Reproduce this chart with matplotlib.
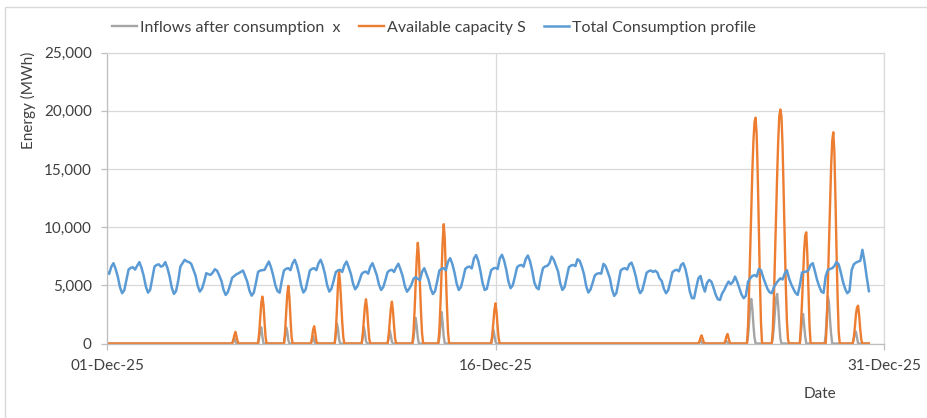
import matplotlib
matplotlib.use('Agg')
import matplotlib.pyplot as plt
import matplotlib.dates as mdates
from matplotlib.ticker import FuncFormatter
from matplotlib.patches import Rectangle
import pandas as pd

plt.rcParams['font.family'] = ['Lato', 'DejaVu Sans']

# Total consumption profile, 2-hourly values (MWh), one row per day from 01-Dec-25
consumption = [
    6180, 5980, 6600, 6900, 6400, 5740, 4840, 4320, 4570, 5440, 6350, 6500,
    6550, 6350, 6690, 6990, 6490, 5810, 4890, 4370, 4620, 5590, 6600, 6750,
    6800, 6600, 6690, 6990, 6490, 5760, 4810, 4260, 4510, 5400, 6610, 6900,
    7190, 7050, 6990, 6850, 6350, 5850, 4970, 4460, 4710, 5300, 6040, 5950,
    5900, 6100, 6380, 6250, 5850, 5390, 4610, 4170, 4420, 5000, 5650, 5800,
    5950, 6040, 6150, 6270, 5800, 5300, 4540, 4110, 4360, 5200, 6150, 6270,
    6300, 6330, 6700, 7040, 6540, 5840, 5000, 4500, 4370, 5420, 6270, 6420,
    6470, 6300, 6890, 7190, 6690, 5930, 4940, 4380, 4630, 5430, 6270, 6420,
    6470, 6300, 6890, 7190, 6690, 5960, 5010, 4460, 4710, 5390, 6130, 6280,
    6330, 6150, 6740, 7040, 6540, 5970, 5140, 4660, 4910, 5420, 5980, 6130,
    6180, 6000, 6600, 6900, 6400, 5870, 5060, 4600, 4850, 5460, 6130, 6280,
    6330, 6150, 6550, 6850, 6350, 5770, 4930, 4450, 4700, 5030, 5550, 5700,
    5550, 5450, 6170, 6470, 5970, 5470, 4690, 4250, 4500, 5360, 6270, 6420,
    6470, 6300, 7030, 7330, 6830, 6100, 5150, 4600, 4850, 5600, 6410, 6560,
    6610, 6450, 7300, 7600, 7100, 6250, 5200, 4600, 4700, 5550, 6300, 6450,
    6500, 6400, 7320, 7620, 7120, 6330, 5320, 4750, 5000, 5750, 6550, 6700,
    6750, 6600, 7260, 7560, 7060, 6260, 5240, 4800, 4660, 5660, 6470, 6620,
    6670, 6900, 7470, 7200, 6700, 6180, 5170, 4600, 4850, 5680, 6550, 6700,
    6750, 6650, 7240, 7100, 6600, 5950, 4950, 4380, 4630, 5210, 5840, 5990,
    6040, 6000, 6840, 6650, 6150, 5600, 4640, 4090, 4340, 5280, 6270, 6420,
    6470, 6350, 6800, 6950, 6450, 5770, 4850, 4320, 4570, 5300, 6070, 6220,
    6270, 6150, 6250, 6100, 5600, 5380, 4710, 4320, 4570, 5320, 6130, 6280,
    6330, 6200, 6750, 6900, 6400, 5550, 4490, 3900, 3890, 4800, 5600, 5800,
    5000, 4460, 5200, 5460, 5320, 4800, 4200, 3800, 3740, 4300, 4600, 5000,
    5320, 5100, 5300, 5750, 5300, 4740, 4200, 3890, 4100, 5300, 5600, 5800,
    5880, 5750, 6400, 6300, 5700, 5180, 4700, 4400, 4320, 4850, 5150, 5400,
    5600, 5500, 6000, 6300, 5600, 5100, 4700, 4350, 4170, 5000, 6100, 6150,
    6180, 6300, 6750, 6900, 6200, 5460, 4900, 4450, 4350, 5800, 6330, 6400,
    6470, 6650, 7000, 6800, 6100, 5300, 4700, 4320, 4500, 6300, 6800, 6950,
    7040, 7100, 8050, 7000, 5700, 4500,
]

# Available capacity S: hourly spikes (start hour, values), zero elsewhere
capacity_start = [
    '2025-12-05 20:00', '2025-12-06 20:00', '2025-12-07 20:00', '2025-12-08 21:00',
    '2025-12-09 19:00', '2025-12-10 20:00', '2025-12-11 20:00', '2025-12-12 19:00',
    '2025-12-13 19:00', '2025-12-15 20:00', '2025-12-23 20:00', '2025-12-24 20:00',
    '2025-12-25 17:00', '2025-12-26 16:00', '2025-12-27 18:00', '2025-12-28 18:00',
    '2025-12-29 19:00',
]
capacity_vals = [
    [0, 300, 700, 1000, 600, 200, 0],
    [0, 900, 2200, 3500, 4030, 3300, 1800, 500, 0],
    [0, 1000, 2600, 4200, 4950, 4000, 2200, 600, 0],
    [0, 500, 1200, 1480, 900, 200, 0],
    [0, 1000, 2800, 5000, 6180, 5200, 3500, 1800, 500, 0],
    [0, 800, 2000, 3200, 3800, 3000, 1600, 400, 0],
    [0, 700, 1900, 3000, 3600, 2800, 1500, 400, 0],
    [0, 1000, 2800, 5000, 7300, 8650, 7500, 5000, 2600, 800, 0],
    [0, 1200, 3400, 6000, 8700, 10250, 9000, 6200, 3200, 1000, 0],
    [0, 700, 1800, 2900, 3450, 2700, 1400, 400, 0],
    [0, 200, 500, 700, 400, 100, 0],
    [0, 250, 600, 820, 450, 100, 0],
    [0, 1500, 4500, 8000, 11500, 14800, 17400, 19000, 19400, 18000, 14500, 10000, 5500, 1800, 0],
    [0, 1200, 4000, 7500, 11000, 14500, 17500, 19600, 20100, 19500, 17000, 13000, 9000, 5000, 2000, 400, 0],
    [0, 1500, 3500, 5800, 8000, 9300, 9550, 7500, 4500, 1500, 0],
    [0, 1800, 5000, 8500, 12000, 15200, 17400, 18150, 16500, 12500, 8000, 4000, 1000, 0],
    [0, 500, 1400, 2500, 3100, 3250, 2400, 1200, 300, 0],
]

# Inflows after consumption x: hourly spikes (start hour, values)
inflow_start = [
    '2025-12-05 20:00', '2025-12-06 20:00', '2025-12-07 20:00', '2025-12-08 21:00',
    '2025-12-09 19:00', '2025-12-10 20:00', '2025-12-11 20:00', '2025-12-12 19:00',
    '2025-12-13 19:00', '2025-12-15 20:00', '2025-12-23 20:00', '2025-12-24 20:00',
    '2025-12-25 17:00', '2025-12-26 16:00', '2025-12-27 18:00', '2025-12-28 17:00',
    '2025-12-29 19:00',
]
inflow_vals = [
    [0, 250, 445, 150, 0],
    [0, 500, 1100, 1390, 600, 0],
    [0, 600, 1390, 1100, 300, 0],
    [0, 300, 640, 200, 0],
    [0, 800, 1720, 1300, 400, 0],
    [0, 600, 1430, 900, 200, 0],
    [0, 500, 1150, 700, 150, 0],
    [0, 400, 1300, 2200, 1500, 500, 0],
    [0, 500, 1600, 2700, 1800, 600, 0],
    [0, 500, 1200, 700, 150, 0],
    [0, 120, 250, 80, 0],
    [0, 100, 200, 60, 0],
    [0, 600, 1800, 3200, 3830, 3000, 1600, 500, 0],
    [0, 500, 1500, 2800, 3900, 4260, 3200, 1600, 400, 0],
    [0, 900, 2000, 2540, 1600, 600, 0],
    [0, 800, 2500, 4030, 3500, 2000, 800, 0],
    [0, 400, 850, 1020, 500, 0],
]

x_ticks = ['2025-12-01', '2025-12-16', '2025-12-31']


def spike_series(starts, shapes, index):
    s = pd.Series(0.0, index=index)
    for start, vals in zip(starts, shapes):
        t = pd.date_range(start, periods=len(vals), freq='h')
        s.loc[t] = vals
    return s


def main():
    t_cons = pd.date_range('2025-12-01', periods=len(consumption), freq='2h')
    t_hour = pd.date_range('2025-12-01', t_cons[-1], freq='h')
    inflows = spike_series(inflow_start, inflow_vals, t_hour)
    capacity = spike_series(capacity_start, capacity_vals, t_hour)

    fig = plt.figure(figsize=(9.27, 4.18), dpi=100)
    ax = fig.add_axes([107 / 927, 1 - 343.5 / 418, 777 / 927, 291 / 418])

    grid_c = '#D9D9D9'
    text_c = '#404040'
    ax.plot(t_hour, inflows, color='#A5A5A5', lw=1.7, label='Inflows after consumption  x')
    ax.plot(t_hour, capacity, color='#ED7D31', lw=1.7, label='Available capacity S')
    ax.plot(t_cons, consumption, color='#5B9BD5', lw=1.8, label='Total Consumption profile')

    ax.set_ylim(0, 25000)
    ax.set_yticks(range(0, 25001, 5000))
    ax.yaxis.set_major_formatter(FuncFormatter(lambda v, _: f'{v:,.0f}'))
    ticks = pd.to_datetime(x_ticks)
    ax.set_xlim(ticks[0], ticks[-1])
    ax.set_xticks(ticks)
    ax.xaxis.set_major_formatter(mdates.DateFormatter('%d-%b-%y'))

    ax.grid(True, color=grid_c, lw=0.9)
    ax.set_axisbelow(True)
    for side in ['top', 'right']:
        ax.spines[side].set_color(grid_c)
        ax.spines[side].set_linewidth(0.9)
    for side in ['left', 'bottom']:
        ax.spines[side].set_color('#BFBFBF')
        ax.spines[side].set_linewidth(0.9)
    ax.tick_params(axis='both', direction='out', length=4, width=0.9, color='#BFBFBF',
                   labelcolor=text_c, labelsize=11)
    ax.tick_params(axis='y', pad=7)
    ax.tick_params(axis='x', pad=7)

    fig.text(28 / 927, 1 - 100 / 418, 'Energy (MWh)', rotation=90, ha='center', va='center',
             fontsize=11, color=text_c)
    fig.text(820 / 927, 1 - 394 / 418, 'Date', ha='center', va='center', fontsize=11, color=text_c)

    fig.legend(loc='center', bbox_to_anchor=(434 / 927, 1 - 28 / 418), ncol=3, frameon=False,
               fontsize=11.5, handlelength=1.6, handletextpad=0.2, columnspacing=1.1,
               labelcolor=text_c)

    fig.patches.append(Rectangle((5 / 927, -0.1), 1.2, (1 - 7 / 418) + 0.1,
                                 transform=fig.transFigure, fill=False,
                                 edgecolor=grid_c, lw=1.0))

    fig.savefig('out.png', dpi=100)


if __name__ == "__main__":
    main()
